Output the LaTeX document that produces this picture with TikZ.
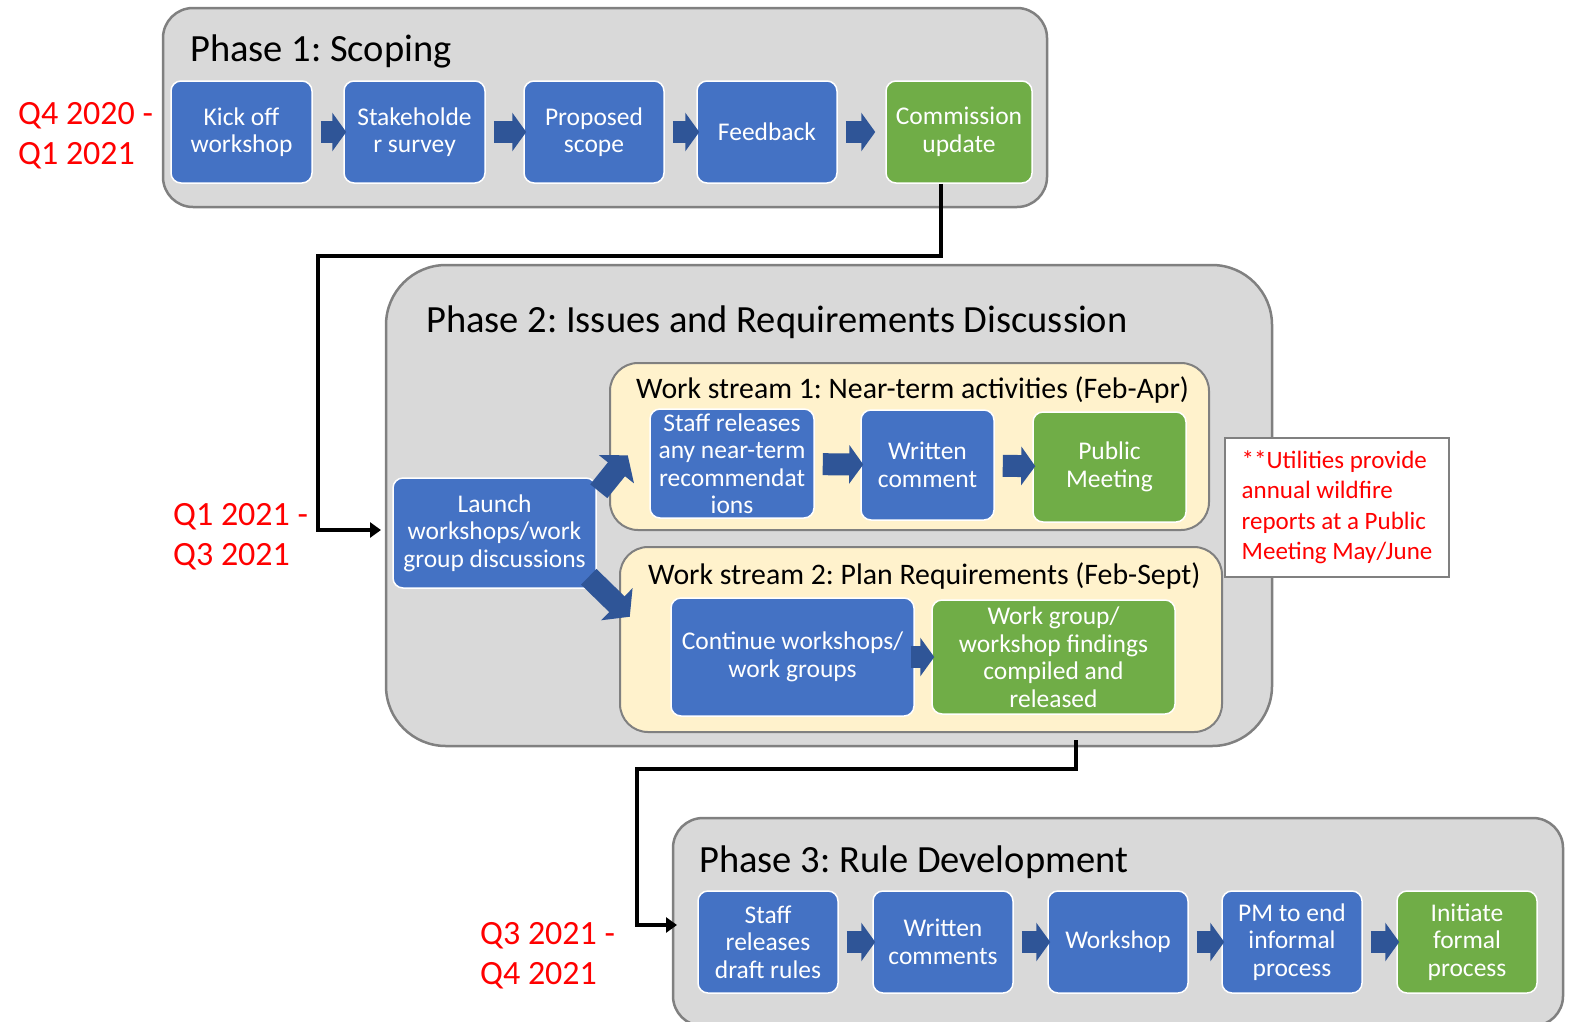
\documentclass[tikz,border=0pt]{standalone}
\usepackage{fontspec}
\setmainfont{Carlito}
\usetikzlibrary{arrows.meta,calc}
\definecolor{taskblue}{HTML}{4472C4}
\definecolor{taskgreen}{HTML}{70AD47}
\definecolor{flowblue}{HTML}{2F5597}
\definecolor{phasegray}{HTML}{D9D9D9}
\definecolor{phaseline}{HTML}{808080}
\definecolor{cream}{HTML}{FFF2CC}
\frenchspacing
\begin{document}
\begin{tikzpicture}[x=1pt,y=-1pt]
  \tikzstyle{phase}=[draw=phaseline,line width=2.5pt,fill=phasegray,rounded corners=30pt]
  \tikzstyle{stream}=[draw=phaseline,line width=2pt,fill=cream,rounded corners=28pt]
  \tikzstyle{task}=[draw=white,line width=1.5pt,fill=taskblue,rounded corners=10pt,text=white,align=center,inner sep=0pt,font=\fontsize{25.5}{27.5}\selectfont]
  \tikzstyle{milestone}=[task,fill=taskgreen]
  \tikzstyle{heading}=[anchor=base west,inner sep=0pt,font=\fontsize{38.5}{46}\selectfont]
  \tikzstyle{subheading}=[anchor=base west,inner sep=0pt,font=\fontsize{29.8}{35}\selectfont]
  \tikzstyle{period}=[anchor=west,align=left,text=red,inner sep=0pt,font=\fontsize{34}{40}\selectfont]
  \tikzstyle{flow}=[color=flowblue,line width=22pt,-{Triangle[length=14pt,width=38pt]},shorten <=8pt,shorten >=-3pt]
  \tikzstyle{split}=[flow,-{Triangle[length=18pt,width=44pt]},shorten <=0pt,shorten >=0pt]
  \tikzstyle{link}=[draw,line width=4pt,-{Triangle[length=11pt,width=15pt]}]
  \useasboundingbox (0,0) rectangle (1570,1021);

  % phase 1
  \node [phase,minimum width=884pt,minimum height=199pt] (ph1) at (605,107.5) {};
  \node [heading] (t1) at (190,61) {Phase 1: Scoping};
  \node [period] (q1) at (18,136) {Q4 2020 -\\Q1 2021};
  \node [task,minimum width=141pt,minimum height=102pt] (kick) at (241.5,132) {Kick off\\workshop};
  \node [task,minimum width=141pt,minimum height=102pt] (stake) at (414.5,132) {Stakeholde\\r survey};
  \node [task,minimum width=140pt,minimum height=102pt] (scope) at (594,132) {Proposed\\scope};
  \node [task,minimum width=140pt,minimum height=102pt] (feed) at (767,132) {Feedback};
  \node [milestone,minimum width=146pt,minimum height=102pt] (comm) at (959,132) {Commission\\update};
  \draw[flow] (kick) -- (stake);
  \draw[flow] (stake) -- (scope);
  \draw[flow] (scope) -- (feed);
  \draw[flow,shorten >=10pt] (feed) -- (comm);

  % phase 2
  \node [phase,rounded corners=60pt,minimum width=886pt,minimum height=481pt] (ph2) at (829,505.5) {};
  \node [heading] (t2) at (426,332) {Phase 2: Issues and Requirements Discussion};
  \node [period] (q2) at (173,537) {Q1 2021 -\\Q3 2021};
  \node [stream,minimum width=599pt,minimum height=167pt] (ws1) at (909.5,446.5) {};
  \node [subheading] (s1) at (636,398) {Work stream 1: Near-term activities (Feb-Apr)};
  \node [stream,minimum width=602pt,minimum height=185pt] (ws2) at (921,639.5) {};
  \node [subheading] (s2) at (648,584) {Work stream 2: Plan Requirements (Feb-Sept)};
  \node [task,minimum width=203pt,minimum height=110pt] (launch) at (494.5,533) {Launch\\workshops/work\\group discussions};
  \node [task,minimum width=164pt,minimum height=109pt] (staff) at (732,463.5) {Staff releases\\any near-term\\recommendat\\ions};
  \node [task,minimum width=133pt,minimum height=110pt] (wrote) at (927.5,465) {Written\\comment};
  \node [milestone,minimum width=153pt,minimum height=110pt] (pub) at (1109.5,467) {Public\\Meeting};
  \node [task,minimum width=243pt,minimum height=118pt] (cont) at (792.5,657) {Continue workshops/\\work groups};
  \node [milestone,minimum width=243pt,minimum height=114pt] (find) at (1053.5,657) {Work group/\\workshop findings\\compiled and\\released};
  \draw[flow] (staff) -- (wrote);
  \draw[flow] (wrote) -- (pub);
  \draw[flow,shorten <=-4pt] (cont) -- (find);
  \draw[split] ($(launch.north east)+(2,14)$) -- ($(launch.north east)+(31,-22)$);
  \draw[split] ($(launch.south east)+(-8,-12)$) -- ($(launch.south east)+(33,28)$);
  \node [draw=phaseline,line width=2pt,fill=white,minimum width=224pt,minimum height=139pt,align=left,text=red,inner sep=0pt,font=\fontsize{25}{30.5}\selectfont] (note) at (1337,507.5) {**Utilities provide\\annual wildfire\\reports at a Public\\Meeting May/June};

  % phase 3
  \node [phase,minimum width=890pt,minimum height=208pt] (ph3) at (1118,922) {};
  \node [heading] (t3) at (699,872) {Phase 3: Rule Development};
  \node [period] (q3) at (480,956) {Q3 2021 -\\Q4 2021};
  \node [task,minimum width=140pt,minimum height=102pt] (draft) at (768,942) {Staff\\releases\\draft rules};
  \node [task,minimum width=140pt,minimum height=102pt] (notes) at (943,942) {Written\\comments};
  \node [task,minimum width=140pt,minimum height=102pt] (shop) at (1118,942) {Workshop};
  \node [task,minimum width=140pt,minimum height=102pt] (pm) at (1292,942) {PM to end\\informal\\process};
  \node [milestone,minimum width=140pt,minimum height=102pt] (init) at (1467,942) {Initiate\\formal\\process};
  \draw[flow] (draft) -- (notes);
  \draw[flow] (notes) -- (shop);
  \draw[flow] (shop) -- (pm);
  \draw[flow] (pm) -- (init);

  % hand-overs
  \coordinate (in2) at (381,530);
  \coordinate (out2) at (1076,740);
  \coordinate (in3) at (677,925);
  \draw[link] ([xshift=-18pt]comm.south) -- ++(0,72) -| ($(in2)+(-63,0)$) -- (in2);
  \draw[link] (out2) -- ++(0,29) -| ($(in3)+(-40,0)$) -- (in3);
\end{tikzpicture}
\end{document}
